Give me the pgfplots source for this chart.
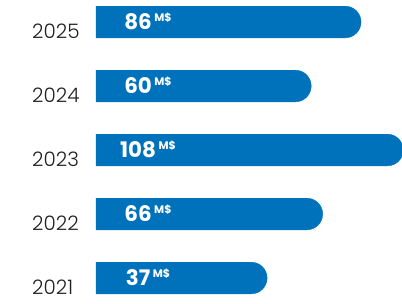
\documentclass[border=0pt]{standalone}
\usepackage{fontspec}
\setmainfont{Poppins}
\newfontfamily\yearfont{Poppins Light}
\newfontfamily\valfont{Poppins Bold}
\usepackage{pgfplots}
\usepackage{pgfplotstable}
\pgfplotsset{compat=1.18}
\definecolor{barblue}{RGB}{0,114,188}
\pgfplotstableread{
year v
2021 37
2022 66
2023 108
2024 60
2025 86
}\data
\begin{document}
\begin{tikzpicture}
\begin{axis}[
  scale only axis, width=306bp, height=304bp,
  xmin=0, xmax=159.6,
  ymin=2020.594, ymax=2025.344,
  enlargelimits=false,
  axis line style={draw=none},
  tick style={draw=none},
  major tick length=0pt,
  xtick=\empty,
  ytick={2021,2022,2023,2024,2025},
  yticklabels={2021,2022,2023,2024,2025},
  yticklabel style={font=\yearfont\fontsize{20}{20}\selectfont, anchor=base west, inner sep=0pt, xshift=-64bp, yshift=-16bp, text=black!88},
]
\addplot[xbar, bar width=32bp, fill=barblue, draw=none] table[x expr=\thisrow{v}+44, y=year] {\data};
\addplot[only marks, color=barblue, mark=*, mark size=15.8bp, mark options={fill=barblue, draw=barblue, line width=0.4bp}] table[x expr=\thisrow{v}+44, y=year] {\data};
\addplot[only marks, mark=*, mark size=0pt, point meta=explicit symbolic,
  nodes near coords={\valfont\fontsize{21.5}{21.5}\selectfont\pgfplotspointmeta\hspace{2.5bp}\raisebox{8.3bp}{\fontsize{11}{11}\selectfont M\$}},
  nodes near coords style={anchor=base, inner sep=0pt, text=white, yshift=-7.8bp}]
  table[x expr=27.1, y=year, meta=v] {\data};
\coordinate (bl) at (rel axis cs:0,0);
\coordinate (tr) at (rel axis cs:1,1);
\end{axis}
\pgfresetboundingbox
\useasboundingbox ([xshift=-96bp]bl) rectangle (tr);
\end{tikzpicture}
\end{document}
